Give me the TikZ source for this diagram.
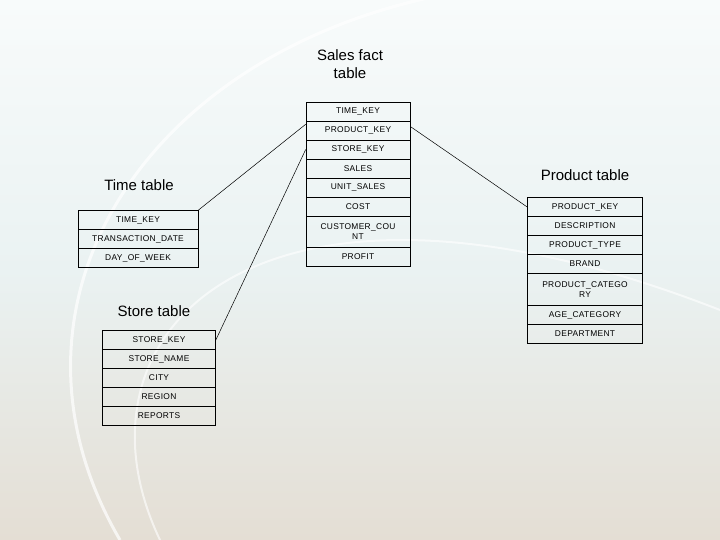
\documentclass[tikz,border=0pt]{standalone}
\usepackage{fontspec}
\setmainfont{Liberation Sans}
\newfontfamily\cellfont[LetterSpace=4]{Liberation Sans}
\definecolor{bgtop}{RGB}{248,251,251}
\definecolor{bgmid}{RGB}{234,242,242}
\definecolor{bgbot}{RGB}{228,222,212}
\begin{document}
\begin{tikzpicture}[x=1pt,y=-1pt,
  cell/.style={draw=black,line width=0.6pt,inner sep=0pt,align=center,font=\cellfont\fontsize{8.4}{9.4}\selectfont},
  ttl/.style={font=\fontsize{15}{18}\selectfont,align=center},
  link/.style={draw=black,line width=0.5pt}]
\useasboundingbox (0,0) rectangle (720,540);
\shade[top color=bgtop, bottom color=bgbot, middle color=bgmid] (0,0) rectangle (720,540);
\draw[white,line width=3pt,opacity=0.7] (120,540) .. controls (-20,300) and (150,40) .. (470,-10);
\draw[white,line width=2pt,opacity=0.6] (160,540) .. controls (60,330) and (260,130) .. (720,310);
% fact table
\def\fx{358} \def\fw{104}
\node[ttl] (salest) at (350,64) {Sales fact\\table};
\node[cell,minimum width=\fw,minimum height=19] (f1) at (\fx,111.5) {TIME\_KEY};
\node[cell,minimum width=\fw,minimum height=19] (f2) at (\fx,130.5) {PRODUCT\_KEY};
\node[cell,minimum width=\fw,minimum height=19] (f3) at (\fx,149.5) {STORE\_KEY};
\node[cell,minimum width=\fw,minimum height=19] (f4) at (\fx,168.5) {SALES};
\node[cell,minimum width=\fw,minimum height=19] (f5) at (\fx,187.5) {UNIT\_SALES};
\node[cell,minimum width=\fw,minimum height=19] (f6) at (\fx,206.5) {COST};
\node[cell,minimum width=\fw,minimum height=31] (f7) at (\fx,231.5) {CUSTOMER\_COU\\NT};
\node[cell,minimum width=\fw,minimum height=19] (f8) at (\fx,256.5) {PROFIT};
% time table
\def\tx{138} \def\tw{120}
\node[ttl] (timet) at (139,185) {Time table};
\node[cell,minimum width=\tw,minimum height=19] (t1) at (\tx,220) {TIME\_KEY};
\node[cell,minimum width=\tw,minimum height=19] (t2) at (\tx,239) {TRANSACTION\_DATE};
\node[cell,minimum width=\tw,minimum height=19] (t3) at (\tx,258) {DAY\_OF\_WEEK};
% store table
\def\sx{159} \def\sw{113}
\node[ttl] (storet) at (154,311) {Store table};
\node[cell,minimum width=\sw,minimum height=19] (s1) at (\sx,340) {STORE\_KEY};
\node[cell,minimum width=\sw,minimum height=19] (s2) at (\sx,359) {STORE\_NAME};
\node[cell,minimum width=\sw,minimum height=19] (s3) at (\sx,378) {CITY};
\node[cell,minimum width=\sw,minimum height=19] (s4) at (\sx,397) {REGION};
\node[cell,minimum width=\sw,minimum height=19] (s5) at (\sx,416) {REPORTS};
% product table
\def\px{585} \def\pw{115}
\node[ttl] (prodt) at (585,175) {Product table};
\node[cell,minimum width=\pw,minimum height=19] (p1) at (\px,207) {PRODUCT\_KEY};
\node[cell,minimum width=\pw,minimum height=19] (p2) at (\px,226) {DESCRIPTION};
\node[cell,minimum width=\pw,minimum height=19] (p3) at (\px,245) {PRODUCT\_TYPE};
\node[cell,minimum width=\pw,minimum height=19] (p4) at (\px,264) {BRAND};
\node[cell,minimum width=\pw,minimum height=32] (p5) at (\px,289.5) {PRODUCT\_CATEGO\\RY};
\node[cell,minimum width=\pw,minimum height=19] (p6) at (\px,315) {AGE\_CATEGORY};
\node[cell,minimum width=\pw,minimum height=19] (p7) at (\px,334) {DEPARTMENT};
% links
\draw[link] (t1.north east) -- ([yshift=-3]f1.south west);
\draw[link] (s1.east) -- (f3.west);
\draw[link] ([yshift=4]f2.east) -- (p1.west);
\end{tikzpicture}
\end{document}
